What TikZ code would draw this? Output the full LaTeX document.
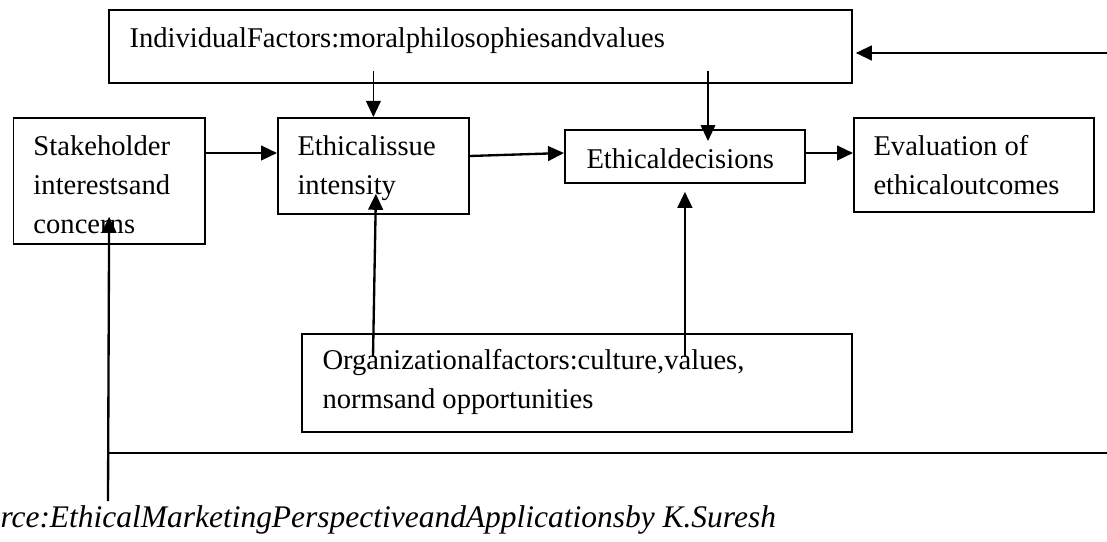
\documentclass[tikz,border=0pt]{standalone}
\usepackage{fontspec}
\setmainfont{Liberation Serif}
\usetikzlibrary{positioning,calc,arrows.meta}
\tikzset{every picture/.style={line width=0.75pt}}
\tikzset{
  factorbox/.style={draw, line width=1.35pt, rectangle, anchor=north west, inner sep=0pt},
  boxtext/.style={anchor=base west, inner sep=0pt, align=left, font=\fontsize{21.45}{29.25}\selectfont},
  flow/.style={-{Triangle[length=12pt,width=11pt]}, line width=1.75pt},
  thinflow/.style={-{Triangle[length=12pt,width=11pt]}, line width=1.3pt}
}

\begin{document}
\begin{tikzpicture}[x=0.75pt,y=0.75pt,yscale=-1,xscale=1]
\useasboundingbox (0,0) rectangle (1107,542);

% boxes
\node[factorbox, minimum width=557.25pt, minimum height=54.75pt] (indiv) at (108,9) {};
\node[factorbox, minimum width=143.6pt, minimum height=94.5pt] (stake) at (12.5,117) {};
\node[factorbox, minimum width=143.25pt, minimum height=72pt] (issue) at (277,117) {};
\node[factorbox, minimum width=180pt, minimum height=39.75pt] (decide) at (564,129) {};
\node[factorbox, minimum width=180pt, minimum height=70.5pt] (evalout) at (853,117) {};
\node[factorbox, minimum width=412.5pt, minimum height=73.5pt] (org) at (301,333) {};

% box texts (base = last line)
\node[boxtext] (indiv-t) at (129,48) {IndividualFactors:moralphilosophiesandvalues};
\node[boxtext] (stake-t) at (33,233) {Stakeholder\\interestsand\\concerns};
\node[boxtext] (issue-t) at (297,194) {Ethicalissue\\intensity};
\node[boxtext] (decide-t) at (586,168) {Ethicaldecisions};
\node[boxtext] (evalout-t) at (873,194) {Evaluation of\\ethicaloutcomes};
\node[boxtext] (org-t) at (322,408) {Organizationalfactors:culture,values,\\normsand opportunities};

% source line
\node[anchor=base west, inner sep=0pt, font=\fontsize{23.6}{28}\selectfont\itshape] (source) at (0,527)
  {rce:EthicalMarketingPerspectiveandApplicationsby K.Suresh};

% free ends of the feedback lines
\coordinate (topin) at (1107,53);
\coordinate (botin) at (1107,453);
\coordinate (srcend) at (108,501);

% main flow
\draw[flow] ($(stake.north east)+(0,36)$) -- ($(issue.north west)+(0,36)$);
\draw[flow] ($(issue.north east)+(0,39)$) -- ($(decide.north west)+(0,24)$);
\draw[flow] ($(decide.north east)+(0,24)$) -- ($(evalout.north west)+(0,36)$);

% individual factors
\draw[thinflow] ($(issue.north |- indiv.south)+(0,-13)$) -- (issue.north);
\draw[thinflow] ($(decide.north west |- indiv.south)+(144,-13)$) -- ($(decide.north west)+(144,12)$);

% organizational factors
\draw[flow] ($(org.north west)+(72,24)$) -- ($(issue.south)+(2.5,-21)$);
\draw[flow] ($(decide.south |- org.north)+(0,24)$) -- ($(decide.south)+(0,8)$);

% feedback
\draw[flow] (topin) -- ($(indiv.north east |- topin)+(3,0)$);
\draw[line width=1.75pt] (botin) -- (botin -| stake.south);
\draw[flow] (srcend) -- ($(stake.south)+(0,-28)$);

\end{tikzpicture}
\end{document}
